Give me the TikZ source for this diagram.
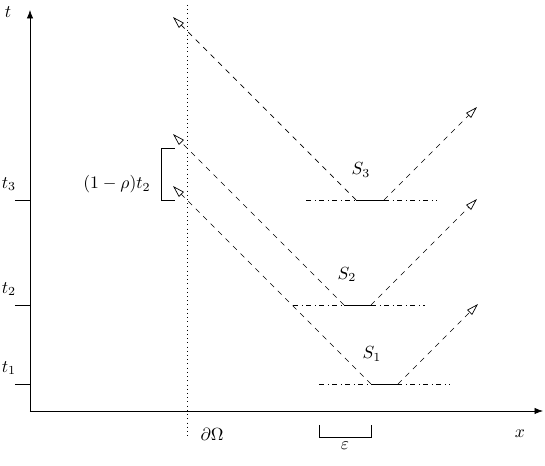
\documentclass[tikz,border=0pt]{standalone}
\usepackage{amsmath, amssymb}
\usetikzlibrary{arrows.meta, calc, positioning}

\begin{document}
\begin{tikzpicture}[ray/.style={dashed, -{Triangle[open, length=2.4mm, width=1.4mm]}},
    level/.style={dashdotted}]
  \useasboundingbox (-0.6,-1.1) rectangle (10.3,8.22);
  % axes
  \coordinate (O) at (0,0);
  \coordinate (xend) at (10.26,0);
  \coordinate (tend) at (0,8.02);
  \draw[-Latex] (O) -- (xend);
  \draw[-Latex] (O) -- (tend);
  \node (tlab) at (-0.44,7.98) {$t$};
  \node (xlab) at (9.8,-0.46) {$x$};
  % boundary
  \coordinate (btop) at (3.14,8.12);
  \coordinate (bbot) at (3.14,-0.52);
  \draw[dotted] (btop) -- (bbot);
  \node (bd) at (3.64,-0.46) {$\partial\Omega$};
  % ticks
  \foreach \i/\y in {1/0.54, 2/2.12, 3/4.22}{
    \coordinate (k\i) at (0,\y);
    \coordinate (kk\i) at (-0.3,\y);
    \draw (kk\i) -- (k\i);
    \node (t\i) at (-0.42,\y+0.32) {$t_\i$};
  }
  % sources
  \foreach \i/\y/\a/\b/\s/\e/\l/\r in {1/0.54/6.82/7.36/5.78/8.4/3.96/1.6,
      2/2.12/6.28/6.82/5.26/7.9/3.42/2.12, 3/4.22/6.52/7.08/5.52/8.14/3.66/1.86}{
    \coordinate (a\i) at (\a,\y);
    \coordinate (b\i) at (\b,\y);
    \coordinate (s\i) at (\s,\y);
    \coordinate (e\i) at (\e,\y);
    \coordinate (L\i) at ($(a\i)+(-\l,\l)$);
    \coordinate (R\i) at ($(b\i)+(\r,\r)$);
    \draw[level] (s\i) -- (e\i);
    \draw (a\i) -- (b\i);
    \draw[ray] (a\i) -- (L\i);
    \draw[ray] (b\i) -- (R\i);
  }
  \node (S1) at (6.84,1.14) {$S_1$};
  \node (S2) at (6.34,2.73) {$S_2$};
  \node (S3) at (6.62,4.82) {$S_3$};
  % epsilon
  \coordinate (ea) at (5.78,-0.28);
  \coordinate (eb) at (5.78,-0.52);
  \coordinate (ec) at (6.82,-0.52);
  \coordinate (ed) at (6.82,-0.28);
  \draw (ea) -- (eb) -- (ec) -- (ed);
  \node (eps) at (6.3,-0.7) {$\varepsilon$};
  % delay
  \coordinate (ra) at (2.9,5.26);
  \coordinate (rb) at (2.62,5.26);
  \coordinate (rc) at (2.62,4.22);
  \coordinate (rd) at (2.9,4.22);
  \draw (ra) -- (rb) -- (rc) -- (rd);
  \node (rho) at (1.74,4.54) {$(1-\rho)t_2$};
\end{tikzpicture}
\end{document}
